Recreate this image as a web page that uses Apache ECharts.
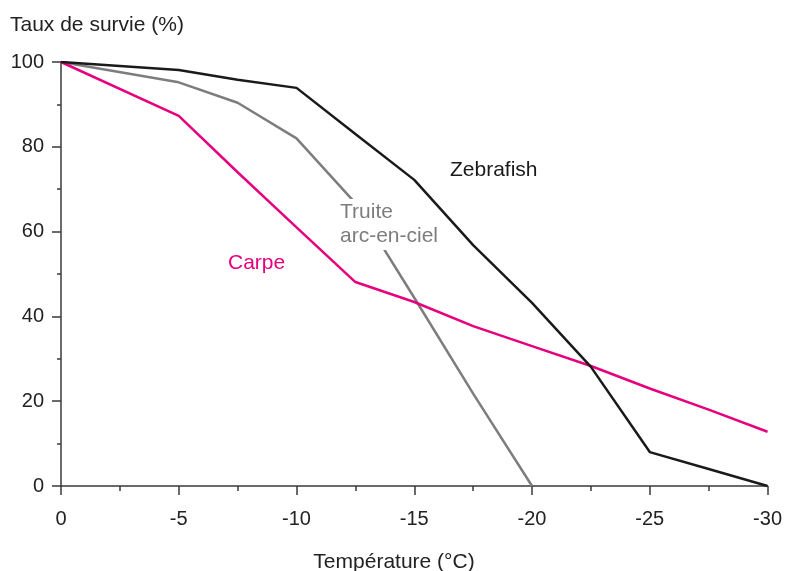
<!DOCTYPE html>
<html>
<head>
<meta charset="utf-8">
<script src="https://cdn.jsdelivr.net/npm/echarts@6/dist/echarts.min.js"></script>
<style>html,body{margin:0;padding:0;background:#fff;}#c{width:785px;height:571px;}</style>
</head>
<body>
<div id="c"></div>
<script>
var temperatures = [0, -5, -7.5, -10, -12.5, -15, -17.5, -20, -22.5, -25, -27.5, -30];
var zebrafish = [100, 98.1, 95.8, 93.9, 83, 72.2, 56.8, 43.2, 28.1, 8.0, 4.0, 0];
var truite = [100, 95.2, 90.4, 82, 66.7, 44.4, 21.8, 0, null, null, null, null];
var carpe = [100, 87.3, 74, 61, 48.1, 43.4, 37.7, 33.0, 28.3, 23.0, 18.0, 12.8];
var xTicks = [0, -5, -10, -15, -20, -25, -30];
var yTicks = [0, 20, 40, 60, 80, 100];

function pairs(vals) {
  var out = [];
  for (var i = 0; i < temperatures.length; i++) {
    if (vals[i] !== null) out.push([temperatures[i], vals[i]]);
  }
  return out;
}

var FONT = '"Liberation Sans", Arial, sans-serif';
var AX = '#3a3a3a';
var chart = echarts.init(document.getElementById('c'), null, {renderer: 'canvas'});
chart.setOption({
  animation: false,
  backgroundColor: '#ffffff',
  grid: {left: 61, right: 17, top: 62, bottom: 85, containLabel: false},
  xAxis: {
    type: 'value', inverse: true,
    min: xTicks[xTicks.length - 1], max: xTicks[0], interval: 5,
    axisLine: {show: true, lineStyle: {color: AX, width: 1.5}},
    axisTick: {show: true, length: 9, lineStyle: {color: AX, width: 1.5}},
    minorTick: {show: true, splitNumber: 2, length: 5, lineStyle: {color: AX, width: 1.5}},
    splitLine: {show: false},
    axisLabel: {color: '#222', fontSize: 20, fontFamily: FONT, margin: 23}
  },
  yAxis: {
    type: 'value',
    min: yTicks[0], max: yTicks[yTicks.length - 1], interval: 20,
    axisLine: {show: true, lineStyle: {color: AX, width: 1.5}},
    axisTick: {show: true, length: 9, lineStyle: {color: AX, width: 1.5}},
    minorTick: {show: true, splitNumber: 2, length: 4, lineStyle: {color: AX, width: 1.5}},
    splitLine: {show: false},
    axisLabel: {color: '#222', fontSize: 20, fontFamily: FONT, margin: 17}
  },
  series: [
    {name: 'Truite arc-en-ciel', type: 'line', data: pairs(truite), symbol: 'none',
     lineStyle: {color: '#7d7d7d', width: 2.5}, z: 2},
    {name: 'Carpe', type: 'line', data: pairs(carpe), symbol: 'none',
     lineStyle: {color: '#e6007e', width: 2.5}, z: 3},
    {name: 'Zebrafish', type: 'line', data: pairs(zebrafish), symbol: 'none',
     lineStyle: {color: '#1a1a1a', width: 2.5}, z: 4}
  ],
  graphic: [
    {type: 'text', x: 10, y: 25, style: {text: 'Taux de survie (%)', fill: '#222', font: '21px ' + FONT, align: 'left', verticalAlign: 'middle'}},
    {type: 'text', x: 394, y: 562, style: {text: 'Température (°C)', fill: '#222', font: '21px ' + FONT, align: 'center', verticalAlign: 'middle'}},
    {type: 'text', x: 450, y: 170, style: {text: 'Zebrafish', fill: '#1a1a1a', font: '21px ' + FONT, align: 'left', verticalAlign: 'middle'}},
    {type: 'text', x: 228, y: 263, style: {text: 'Carpe', fill: '#e6007e', font: '21px ' + FONT, align: 'left', verticalAlign: 'middle'}},
    {type: 'text', x: 338, y: 212, z: 100, style: {text: 'Truite', fill: '#7d7d7d', font: '21px ' + FONT, align: 'left', verticalAlign: 'middle', backgroundColor: '#ffffff', padding: [3, 2, 2, 2]}},
    {type: 'text', x: 338, y: 236, z: 100, style: {text: 'arc-en-ciel', fill: '#7d7d7d', font: '21px ' + FONT, align: 'left', verticalAlign: 'middle', backgroundColor: '#ffffff', padding: [2, 2, 5, 2]}}
  ]
});
</script>
</body>
</html>
